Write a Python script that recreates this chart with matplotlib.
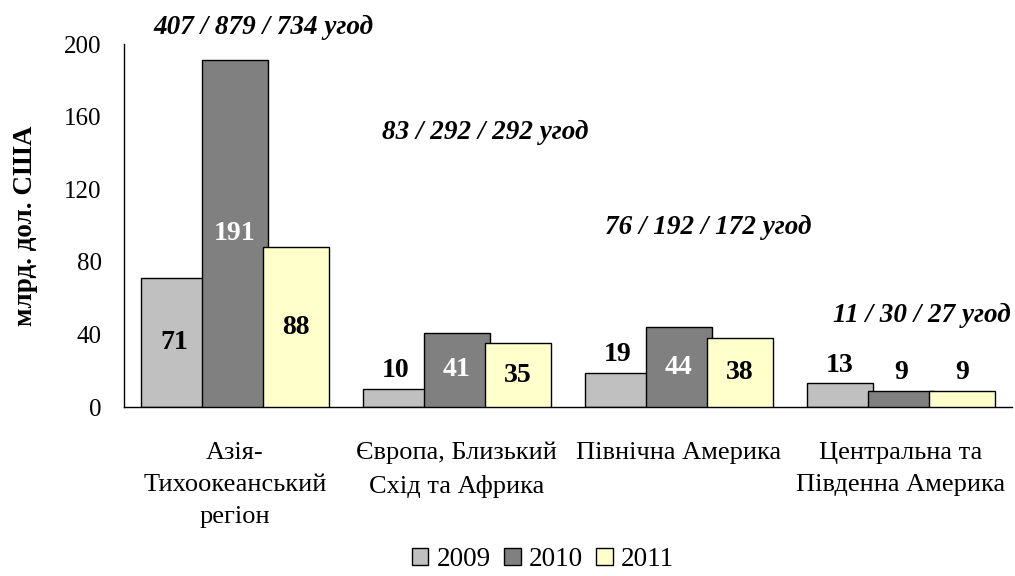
import matplotlib
matplotlib.use("Agg")
import matplotlib.pyplot as plt
import numpy as np

# ---------------------------------------------------------------- data
regions = ["Азія-\nТихоокеанський\nрегіон",
           "Європа, Близький\nСхід та Африка",
           "Північна Америка",
           "Центральна та\nПівденна Америка"]
years = ["2009", "2010", "2011"]
v2009 = [71, 10, 19, 13]
v2010 = [191, 41, 44, 9]
v2011 = [88, 35, 38, 9]
deals = ["407 / 879 / 734 угод", "83 / 292 / 292 угод",
         "76 / 192 / 172 угод", "11 / 30 / 27 угод"]
deal_y = [209, 151.5, 99, 50.7]

COLORS = ["#C0C0C0", "#808080", "#FFFFCC"]
LABEL_COLORS = ["black", "white", "black"]

plt.rcParams["font.family"] = ["Liberation Serif", "DejaVu Serif"]

fig = plt.figure(figsize=(10.15, 5.76), dpi=100)
ax = fig.add_axes([0.122, 0.2934, 0.875, 0.6302])

x = np.arange(len(regions))
width = 0.297
step = 0.275
series = [v2009, v2010, v2011]

for k, (vals, col, lcol, yr) in enumerate(zip(series, COLORS, LABEL_COLORS, years)):
    pos = x + (k - 1) * step
    bars = ax.bar(pos, vals, width=width, color=col, edgecolor="black",
                  linewidth=1.0, label=yr, zorder=2 + k)
    for b, v in zip(bars, vals):
        cx = b.get_x() + b.get_width() / 2
        if v >= 30:
            ax.text(cx, v / 2, str(v), ha="center", va="center",
                    fontsize=20, fontweight="bold", color=lcol, zorder=10)
        else:
            ax.annotate(str(v), xy=(cx, v), xytext=(0, 4),
                        textcoords="offset points", ha="center", va="bottom",
                        fontsize=20, fontweight="bold", color="black", zorder=10)

# deal counts sit up and to the right of each group; the last one hugs the edge
for i, (txt, yv) in enumerate(zip(deals, deal_y)):
    dx = 0.13 if i < len(deals) - 1 else 0.095
    ax.text(i + dx, yv, txt, ha="center", va="center", fontsize=19.5,
            fontweight="bold", fontstyle="italic", clip_on=False)

ax.set_xlim(-0.5, 3.5)
ax.set_ylim(0, 200)
ax.set_yticks([0, 40, 80, 120, 160, 200])
ax.tick_params(axis="y", length=0, labelsize=18, pad=16)
ax.tick_params(axis="x", length=0, labelsize=19, pad=25)
ax.set_xticks(x)
ax.set_xticklabels(regions, linespacing=1.6)
for s in ("top", "right"):
    ax.spines[s].set_visible(False)
ax.spines["left"].set_linewidth(1.0)
ax.spines["bottom"].set_linewidth(1.0)

ax.set_ylabel("млрд. дол. США", fontsize=19.5, fontweight="bold", labelpad=19)

fig.legend(loc="lower center", ncol=3, frameon=False, fontsize=19.5,
           handlelength=0.6, handleheight=0.6, handletextpad=0.3,
           columnspacing=0.5, bbox_to_anchor=(0.535, -0.035))

fig.savefig("out.png", dpi=100)
